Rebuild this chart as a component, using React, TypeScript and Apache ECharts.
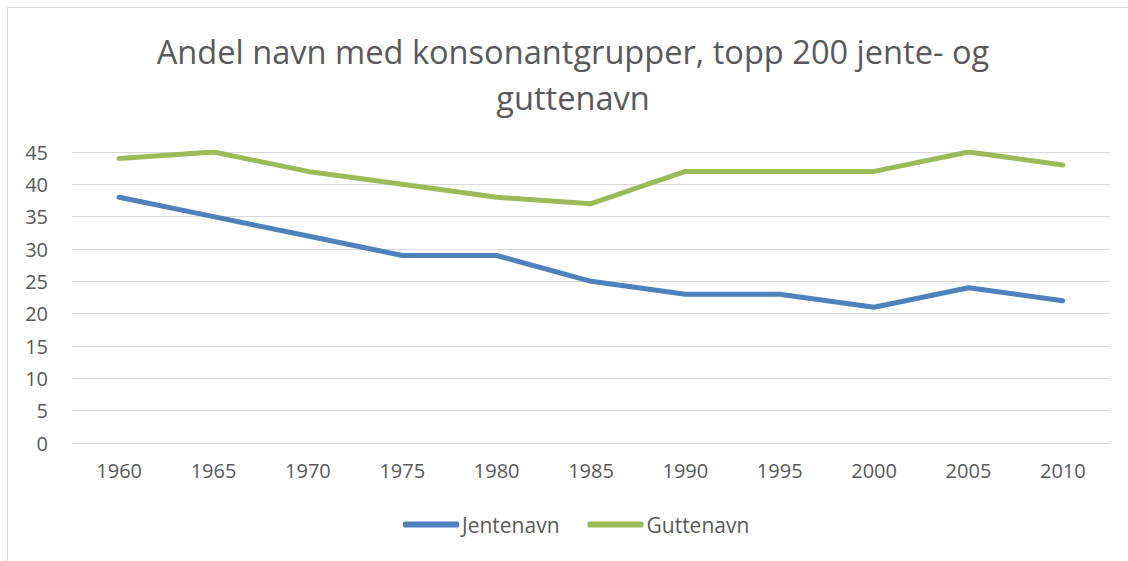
import React, { useEffect, useRef } from "react";
import * as echarts from "echarts";

const years = ["1960", "1965", "1970", "1975", "1980", "1985", "1990", "1995", "2000", "2005", "2010"];
const jentenavn = [38, 35, 32, 29, 29, 25, 23, 23, 21, 24, 22];
const guttenavn = [44, 45, 42, 40, 38, 37, 42, 42, 42, 45, 43];
const titleText = "Andel navn med konsonantgrupper, topp 200 jente- og\nguttenavn";

export default function App() {
  const ref = useRef<HTMLDivElement>(null);
  useEffect(() => {
    if (!ref.current) return;
    const chart = echarts.init(ref.current, undefined, { renderer: "svg" });
    const font = "'Open Sans', 'Liberation Sans', sans-serif";
    chart.setOption({
      animation: false,
      backgroundColor: "#ffffff",
      textStyle: { fontFamily: font },
      graphic: [
        {
          type: "rect",
          shape: { x: 7.5, y: 7.5, width: 1300, height: 700 },
          style: { fill: "none", stroke: "#d9d9d9", lineWidth: 1 },
          silent: true,
        },
      ],
      title: {
        text: titleText,
        left: 568,
        textAlign: "center",
        top: 23,
        textStyle: {
          fontFamily: font,
          fontSize: 32.6,
          fontWeight: "normal",
          color: "#595959",
          lineHeight: 46,
        },
      },
      legend: {
        bottom: 21,
        left: 398,
        itemWidth: 56,
        itemHeight: 6,
        itemGap: 28,
        icon: "roundRect",
        textStyle: { fontFamily: font, fontSize: 21, color: "#595959", padding: [0, 0, 0, -2] },
        data: ["Jentenavn", "Guttenavn"],
      },
      grid: { left: 72, right: 18, top: 152, bottom: 118, containLabel: false },
      xAxis: {
        type: "category",
        data: years,
        boundaryGap: true,
        axisLine: { show: true, lineStyle: { color: "#d9d9d9", width: 1 } },
        axisTick: { show: false },
        axisLabel: { color: "#595959", fontSize: 20, margin: 17, fontFamily: font },
      },
      yAxis: {
        type: "value",
        min: 0,
        max: 45,
        interval: 5,
        axisLine: { show: false },
        axisTick: { show: false },
        splitLine: { lineStyle: { color: "#d9d9d9", width: 1 } },
        axisLabel: { color: "#595959", fontSize: 20, margin: 24, fontFamily: font },
      },
      series: [
        {
          name: "Jentenavn",
          type: "line",
          data: jentenavn,
          symbol: "none",
          color: "#4f81bd",
          lineStyle: { width: 5, color: "#4f81bd", cap: "round", join: "round" },
        },
        {
          name: "Guttenavn",
          type: "line",
          data: guttenavn,
          symbol: "none",
          color: "#9bbb59",
          lineStyle: { width: 5, color: "#9bbb59", cap: "round", join: "round" },
        },
      ],
    });
    return () => chart.dispose();
  }, []);
  return (
    <div
      ref={ref}
      style={{ position: "fixed", left: 0, top: 0, width: 1128, height: 561 }}
    />
  );
}
